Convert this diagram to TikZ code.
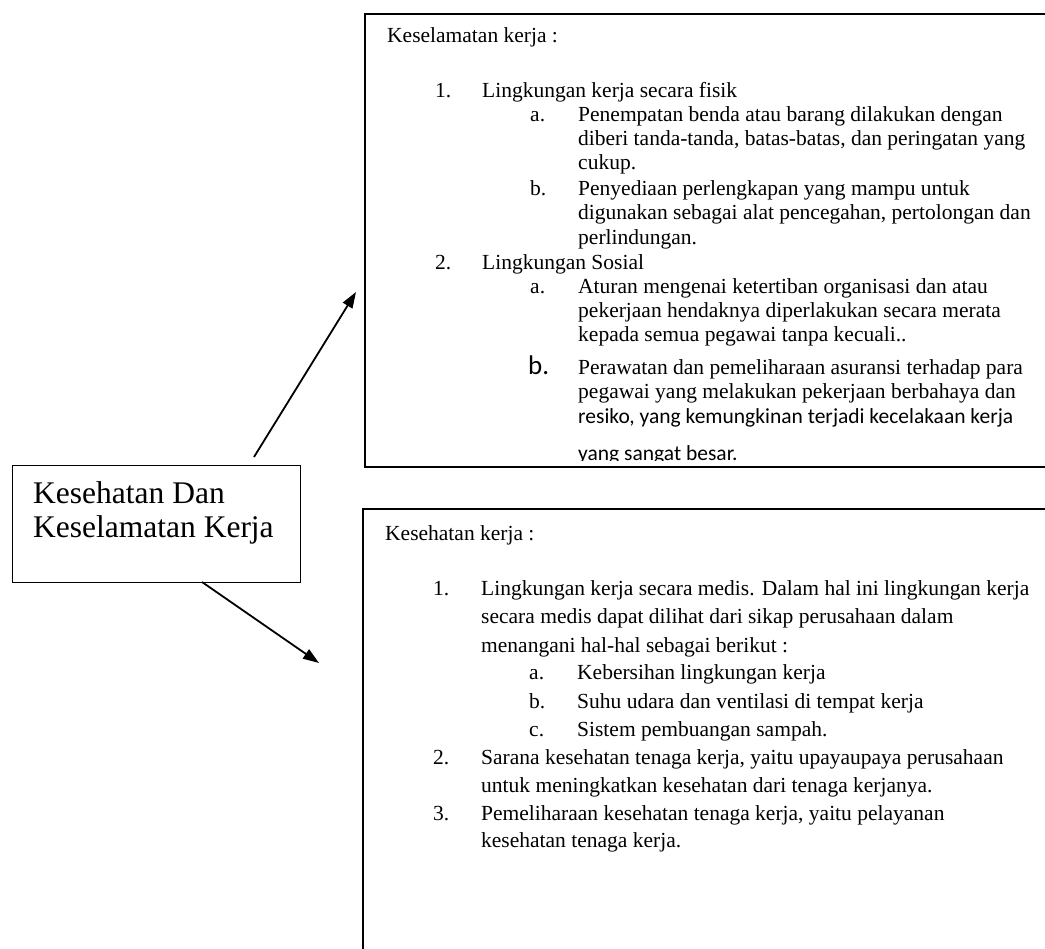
\documentclass[tikz,border=0pt]{standalone}
\usepackage{fontspec}
\setmainfont{Liberation Serif}
\newfontfamily\calib{Carlito}
\usetikzlibrary{arrows.meta}
\begin{document}
\begin{tikzpicture}[x=1pt,y=-1pt,
  tx/.style={anchor=base west, inner sep=0pt, font=\fontsize{21.5}{24}\selectfont},
  cb/.style={anchor=base west, inner sep=0pt, font=\calib\fontsize{21.5}{24}\selectfont},
  big/.style={anchor=base west, inner sep=0pt, font=\fontsize{31.5}{34}\selectfont},
  boxline/.style={draw, line width=1.8pt},
  conn/.style={line width=1.8pt, -{Triangle[length=16pt,width=11pt]}}]
\useasboundingbox (0,0) rectangle (1045,949);
\clip (0,0) rectangle (1045,949);

% main box
\node[draw, line width=1.3pt, minimum width=288pt, minimum height=117pt, inner sep=0pt, anchor=north west] (main) at (12,465) {};
\node[big] (m1) at (33,504) {Kesehatan Dan};
\node[big] (m2) at (33,537) {Keselamatan Kerja};

% boxes
\draw[boxline] (365,14) rectangle (1070,467);
\draw[boxline] (363,509) rectangle (1070,980);

% arrows
\coordinate (a1s) at (254,457);
\coordinate (a1e) at (356,292);
\coordinate (a2s) at (202,582);
\coordinate (a2e) at (319,663);
\draw[conn] (a1s) -- (a1e);
\draw[conn] (a2s) -- (a2e);

% top box text
\node[tx] (k0) at (387,43) {Keselamatan kerja :};
\node[tx] (k1n) at (435,98) {1.};
\node[tx] (k1) at (482,98) {Lingkungan kerja secara fisik};
\node[tx] (k1an) at (530,122) {a.};
\node[tx] (k1a1) at (578,122) {Penempatan benda atau barang dilakukan dengan};
\node[tx] (k1a2) at (578,146) {diberi tanda-tanda, batas-batas, dan peringatan yang};
\node[tx] (k1a3) at (578,170) {cukup.};
\node[tx] (k1bn) at (530,196) {b.};
\node[tx] (k1b1) at (578,196) {Penyediaan perlengkapan yang mampu untuk};
\node[tx] (k1b2) at (578,220) {digunakan sebagai alat pencegahan, pertolongan dan};
\node[tx] (k1b3) at (578,245) {perlindungan.};
\node[tx] (k2n) at (435,270) {2.};
\node[tx] (k2) at (482,270) {Lingkungan Sosial};
\node[tx] (k2an) at (530,294) {a.};
\node[tx] (k2a1) at (578,294) {Aturan mengenai ketertiban organisasi dan atau};
\node[tx] (k2a2) at (578,318) {pekerjaan hendaknya diperlakukan secara merata};
\node[tx] (k2a3) at (578,342) {kepada semua pegawai tanpa kecuali..};
\node[cb, font=\calib\fontsize{27}{30}\selectfont] (k2bn) at (528,375) {b.};
\node[tx] (k2b1) at (578,375) {Perawatan dan pemeliharaan asuransi terhadap para};
\node[tx] (k2b2) at (578,399) {pegawai yang melakukan pekerjaan berbahaya dan};
\node[cb] (k2b3) at (578,424) {resiko, yang kemungkinan terjadi kecelakaan kerja};
\begin{scope}
\clip (560,435) rectangle (1045,460.5);
\node[cb] (k2b4) at (578,461) {yang sangat besar.};
\end{scope}

% bottom box text
\node[tx] (h0) at (385,540) {Kesehatan kerja :};
\node[tx] (h1n) at (433,595) {1.};
\node[tx] (h11) at (481,595) {Lingkungan kerja secara medis. Dalam hal ini lingkungan kerja};
\node[tx] (h12) at (481,623) {secara medis dapat dilihat dari sikap perusahaan dalam};
\node[tx] (h13) at (481,652) {menangani hal-hal sebagai berikut :};
\node[tx] (han) at (529,679) {a.};
\node[tx] (ha) at (577,679) {Kebersihan lingkungan kerja};
\node[tx] (hbn) at (529,708) {b.};
\node[tx] (hb) at (577,708) {Suhu udara dan ventilasi di tempat kerja};
\node[tx] (hcn) at (529,736) {c.};
\node[tx] (hc) at (577,736) {Sistem pembuangan sampah.};
\node[tx] (h2n) at (433,764) {2.};
\node[tx] (h21) at (481,764) {Sarana kesehatan tenaga kerja, yaitu upayaupaya perusahaan};
\node[tx] (h22) at (481,792) {untuk meningkatkan kesehatan dari tenaga kerjanya.};
\node[tx] (h3n) at (433,820) {3.};
\node[tx] (h31) at (481,820) {Pemeliharaan kesehatan tenaga kerja, yaitu pelayanan};
\node[tx] (h32) at (481,847) {kesehatan tenaga kerja.};
\end{tikzpicture}
\end{document}
